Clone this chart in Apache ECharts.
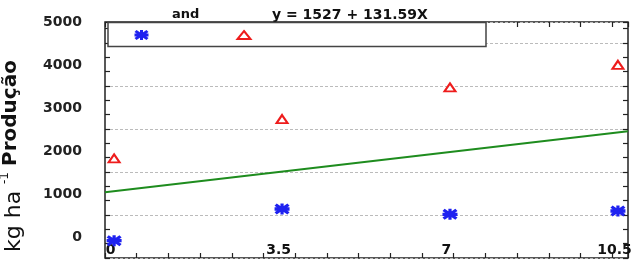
<!DOCTYPE html>
<html>
<head>
<meta charset="utf-8">
<script src="https://cdn.jsdelivr.net/npm/echarts@6/dist/echarts.min.js"></script>
<style>
  html, body { margin: 0; padding: 0; background: #fff; }
  #chart { width: 634px; height: 261px; }
</style>
</head>
<body>
<div id="chart"></div>
<script>
// dados
const doses = [0, 3.5, 7, 10.5];
const serieEstrela = [403, 1140, 1016, 1093];
const serieTriangulo = [2318, 3233, 3970, 4495];
// reta ajustada y = 1527 + 131.59X (pontos nas bordas do eixo)
const retaX = [-0.19, 10.71];
const retaY = [1528, 2950];
const xTicks = [0, 3.5, 7, 10.5];
const yTicks = [0, 1000, 2000, 3000, 4000, 5000];
const equacao = 'y = 1527 + 131.59X';

const fonte = '"DejaVu Sans", sans-serif';
// asterisco grosso (marcador *)
const asterisco = 'path://M0 7H28V13H0Z M11 0H17V20H11Z M4 0L28 16L24 20L0 4Z M24 0L28 4L4 20L0 16Z';
// triângulo menor para a legenda
const trianguloLeg = 'path://M0 0M17 10M8.5 1L15 9H2Z';

const pares = (xs, ys) => xs.map((x, i) => [x, ys[i]]);

const chart = echarts.init(document.getElementById('chart'));

const tickStyle = { show: true, inside: true, length: 5, lineStyle: { color: '#222', width: 1.2 } };
const minorStyle = { show: true, splitNumber: 3, length: 5, lineStyle: { color: '#222', width: 1.2 } };

// eixos só para as marcas miúdas (em cima e embaixo)
const eixoTicks = (pos) => ({
    type: 'value',
    position: pos,
    min: 0,
    max: 16.5,
    interval: 1,
    axisLine: { show: false, onZero: false },
    axisLabel: { show: false },
    splitLine: { show: false },
    axisTick: tickStyle
});

const option = {
    animation: false,
    grid: {
        left: 105, right: 6, top: 22, bottom: 3,
        show: true,
        borderColor: '#222',
        borderWidth: 1.5,
        outerBoundsMode: 'none'
    },
    legend: {
        left: 133,
        top: 29,
        z: 10,
        itemWidth: 17,
        itemHeight: 10,
        itemGap: 86,
        padding: 0,
        formatter: () => '',
        data: [
            { name: 'estrela', icon: asterisco },
            { name: 'triangulo', icon: trianguloLeg }
        ]
    },
    xAxis: [
        {
            type: 'value',
            min: -0.19,
            max: 10.71,
            axisLine: { show: false, onZero: false },
            axisTick: { show: false },
            splitLine: { show: false },
            axisLabel: {
                inside: true,
                margin: 1,
                customValues: xTicks,
                formatter: (v) => String(v),
                color: '#111',
                fontFamily: fonte,
                fontWeight: 'bold',
                fontSize: 14,
                padding: [0, 7, 0, 0]
            }
        },
        eixoTicks('bottom'),
        eixoTicks('top')
    ],
    yAxis: [
        {
            type: 'value',
            min: 0,
            max: 5490,
            interval: 1000,
            axisLine: { show: false, onZero: false },
            axisTick: tickStyle,
            minorTick: minorStyle,
            splitLine: { show: true, lineStyle: { color: '#bbb', type: [3, 2], width: 1 } },
            axisLabel: { show: false }
        },
        {
            type: 'value',
            position: 'right',
            min: 0,
            max: 5490,
            interval: 1000,
            axisLine: { show: false, onZero: false },
            axisLabel: { show: false },
            splitLine: { show: false },
            axisTick: tickStyle,
            minorTick: minorStyle
        },
        {
            // rótulos do eixo y, deslocados como na figura original
            type: 'value',
            position: 'left',
            min: -490,
            max: 5000,
            axisLine: { show: false, onZero: false },
            axisTick: { show: false },
            splitLine: { show: false },
            axisLabel: {
                margin: 23,
                customValues: yTicks,
                formatter: (v) => String(v),
                color: '#222',
                fontFamily: fonte,
                fontWeight: 'bold',
                fontSize: 14
            }
        }
    ],
    graphic: [
        {
            type: 'rect',
            z: 5,
            shape: { x: 108, y: 22.5, width: 378, height: 24 },
            style: { fill: '#fff', stroke: '#444', lineWidth: 1.5 }
        },
        {
            type: 'text', x: 172, y: 15,
            style: { text: 'and', font: 'bold 13px ' + fonte, fill: '#111', textVerticalAlign: 'middle' }
        },
        {
            type: 'text', x: 272, y: 15,
            style: { text: equacao, font: 'bold 14px ' + fonte, fill: '#111', textVerticalAlign: 'middle' }
        },
        {
            type: 'text', x: 14, y: 252, rotation: Math.PI / 2,
            style: { text: 'kg ha', font: '22px ' + fonte, fill: '#111', textVerticalAlign: 'middle' }
        },
        {
            type: 'text', x: 5, y: 184, rotation: Math.PI / 2,
            style: { text: '-1', font: '12px ' + fonte, fill: '#111', textVerticalAlign: 'middle' }
        },
        {
            type: 'text', x: 11, y: 166, rotation: Math.PI / 2,
            style: { text: 'Produção', font: 'bold 20px ' + fonte, fill: '#111', textVerticalAlign: 'middle' }
        }
    ],
    series: [
        {
            name: 'reta',
            type: 'line',
            data: pares(retaX, retaY),
            showSymbol: false,
            lineStyle: { color: '#1e8c1e', width: 2 },
            z: 2
        },
        {
            name: 'estrela',
            type: 'scatter',
            data: pares(doses, serieEstrela),
            symbol: asterisco,
            symbolSize: [15, 11],
            itemStyle: { color: '#1f22f0', opacity: 1 },
            z: 3
        },
        {
            name: 'triangulo',
            type: 'scatter',
            data: pares(doses, serieTriangulo),
            symbol: 'triangle',
            symbolSize: [11, 8],
            itemStyle: { color: '#fff', borderColor: '#ee1c1c', borderWidth: 2, opacity: 1 },
            z: 3
        }
    ]
};

chart.setOption(option);
</script>
</body>
</html>
